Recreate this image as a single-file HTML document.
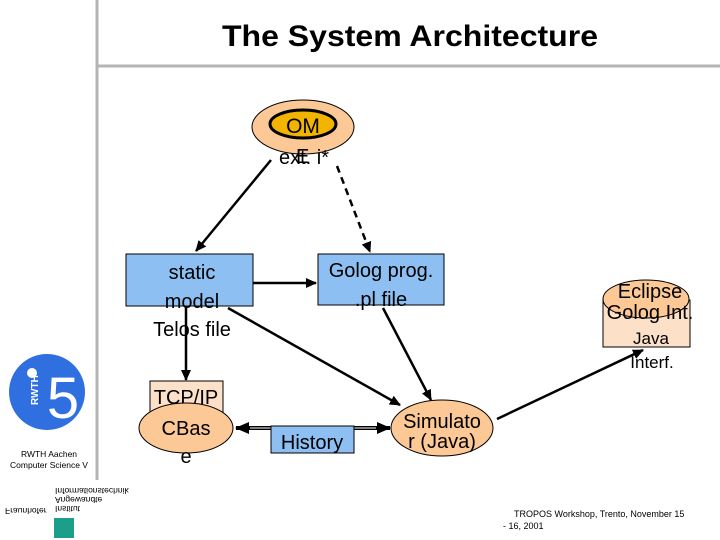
<!DOCTYPE html>
<html><head><style>
html,body{margin:0;padding:0;background:#fff;}
svg{display:block;font-family:"Liberation Sans",Arial,sans-serif;}
</style></head><body>
<svg width="720" height="540" viewBox="0 0 720 540" xmlns="http://www.w3.org/2000/svg">
<defs>
<marker id="a" markerWidth="11" markerHeight="10" refX="10" refY="5" orient="auto" markerUnits="userSpaceOnUse"><path d="M0,0 L11,5 L0,10 z" fill="#000"/></marker>
<marker id="b" markerWidth="14" markerHeight="12" refX="13" refY="6" orient="auto" markerUnits="userSpaceOnUse"><path d="M0,0 L14,6 L0,12 z" fill="#000"/></marker>
</defs>
<line x1="97" y1="0" x2="97" y2="480" stroke="#b4b4b4" stroke-width="3"/>
<line x1="97" y1="66" x2="720" y2="66" stroke="#b4b4b4" stroke-width="3"/>
<text x="410" y="46" font-size="30" font-weight="bold" text-anchor="middle" textLength="376" lengthAdjust="spacingAndGlyphs">The System Architecture</text>

<!-- logo -->
<circle cx="47" cy="392" r="38" fill="#2f6fe0"/>
<circle cx="32" cy="373" r="5" fill="#fff"/>
<text x="63" y="418" font-size="58" fill="#fff" text-anchor="middle">5</text>
<text x="38" y="405" font-size="10" font-weight="bold" fill="#fff" transform="rotate(-90 38 405)">RWTH</text>
<text x="49" y="457" font-size="8.5" text-anchor="middle">RWTH Aachen</text>
<text x="49" y="468" font-size="8.5" text-anchor="middle">Computer Science V</text>
<g transform="translate(0,968) scale(1,-1)">
<text x="55" y="480" font-size="8.5">Informationstechnik</text>
<text x="55" y="471" font-size="8.5">Angewandte</text>
<text x="55" y="462" font-size="8.5">Institut</text>
<text x="5" y="460" font-size="8.5">Fraunhofer</text>
</g>
<rect x="54" y="518" width="20" height="20" fill="#1aa08a"/>
<text x="514" y="517" font-size="9">TROPOS Workshop, Trento, November 15</text>
<text x="503" y="529" font-size="9">- 16, 2001</text>

<!-- top ellipse -->
<ellipse cx="303" cy="127" rx="51" ry="27" fill="#fbc896" stroke="#000" stroke-width="1"/>
<ellipse cx="303" cy="124" rx="33" ry="14" fill="#f2b400" stroke="#000" stroke-width="3"/>
<text x="303" y="133" font-size="21" text-anchor="middle">OM</text>
<text x="304" y="164" font-size="20" text-anchor="middle">ext. i*</text>
<text x="296" y="163" font-size="20">E</text>

<!-- connectors -->
<line x1="271" y1="160" x2="196" y2="251" stroke="#000" stroke-width="2.5" marker-end="url(#a)"/>
<line x1="337" y1="166" x2="370" y2="252" stroke="#000" stroke-width="2.5" stroke-dasharray="7,5" marker-end="url(#a)"/>
<line x1="253" y1="283" x2="316" y2="283" stroke="#000" stroke-width="2.5" marker-end="url(#a)"/>
<line x1="186" y1="306" x2="186" y2="380" stroke="#000" stroke-width="2.5" marker-end="url(#a)"/>
<line x1="228" y1="308" x2="400" y2="405" stroke="#000" stroke-width="2.5" marker-end="url(#a)"/>
<line x1="383" y1="308" x2="431" y2="400" stroke="#000" stroke-width="2.5" marker-end="url(#a)"/>
<line x1="497" y1="419" x2="643" y2="350" stroke="#000" stroke-width="2.5" marker-end="url(#a)"/>

<!-- static model -->
<rect x="126" y="254" width="127" height="52" fill="#8ebff2" stroke="#000" stroke-width="1"/>
<text x="192" y="279" font-size="20" text-anchor="middle">static</text>
<text x="192" y="308" font-size="20" text-anchor="middle">model</text>
<text x="192" y="336" font-size="20" text-anchor="middle">Telos file</text>

<!-- Golog -->
<rect x="318" y="254" width="126" height="51" fill="#8ebff2" stroke="#000" stroke-width="1"/>
<text x="381" y="277" font-size="20" text-anchor="middle">Golog prog.</text>
<text x="381" y="306" font-size="20" text-anchor="middle">.pl file</text>

<!-- TCP/IP CBase -->
<rect x="150" y="381" width="73" height="32" fill="#fde0c8" stroke="#000" stroke-width="1"/>
<text x="186" y="404" font-size="20" text-anchor="middle">TCP/IP</text>
<ellipse cx="186" cy="428" rx="47" ry="25" fill="#fbc896" stroke="#000" stroke-width="1"/>
<text x="186" y="435" font-size="20" text-anchor="middle">CBas</text>
<text x="186" y="463" font-size="20" text-anchor="middle">e</text>

<!-- double arrows -->
<line x1="310" y1="428" x2="236" y2="428" stroke="#000" stroke-width="4" marker-end="url(#b)"/>
<line x1="300" y1="428" x2="390" y2="428" stroke="#000" stroke-width="4" marker-end="url(#b)"/>
<line x1="250" y1="428" x2="376" y2="428" stroke="#fff" stroke-width="1"/>
<rect x="271" y="426" width="83" height="27" fill="#8ebff2" stroke="#000" stroke-width="1"/>
<text x="312" y="449" font-size="20" text-anchor="middle">History</text>

<!-- Simulator -->
<ellipse cx="442" cy="428" rx="51" ry="28" fill="#fbc896" stroke="#000" stroke-width="1"/>
<text x="442" y="428" font-size="20" text-anchor="middle">Simulato</text>
<text x="442" y="448" font-size="20" text-anchor="middle">r (Java)</text>

<!-- Eclipse -->
<rect x="603" y="300" width="87" height="47" fill="#fde0c8" stroke="#000" stroke-width="1"/>
<ellipse cx="646" cy="299" rx="43" ry="19" fill="#fbc896" stroke="#000" stroke-width="1"/>
<text x="650" y="298" font-size="20" text-anchor="middle">Eclipse</text>
<text x="650" y="319" font-size="20" text-anchor="middle">Golog Int.</text>
<text x="651" y="344" font-size="17" text-anchor="middle">Java</text>
<text x="652" y="368" font-size="17" text-anchor="middle">Interf.</text>
</svg>
</body></html>
